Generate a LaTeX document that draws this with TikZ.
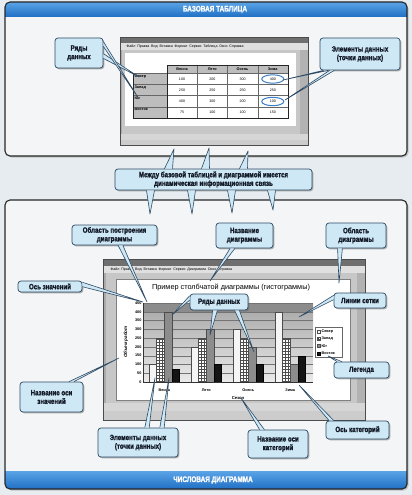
\documentclass[tikz,border=0pt]{standalone}
\usepackage{fontspec}
\setmainfont{Liberation Sans}
\newfontfamily\callfont{Liberation Sans Bold}[FakeStretch=0.8, FakeBold=1.6]
\usetikzlibrary{calc,shadows,patterns}

\definecolor{hdrblue}{HTML}{1F6FC4}
\definecolor{hdrlight}{HTML}{5AA4E6}
\definecolor{callfill}{HTML}{CFE8F6}
\definecolor{callline}{HTML}{2E4A63}
\definecolor{calltext}{HTML}{141B28}
\definecolor{panelbg}{HTML}{F3F5F6}
\definecolor{pagebg}{HTML}{E6ECEF}
\definecolor{winframe}{HTML}{ABABAB}
\definecolor{wintitle}{HTML}{6F6F6F}
\definecolor{cellgray}{HTML}{BDBDBD}
\definecolor{markblue}{HTML}{3C7FC4}

\tikzset{
  callbox/.style={draw=callline, line width=0.7pt, fill=callfill, rounded corners=3pt,
    align=center, inner sep=1.5pt, text=calltext,
    font=\callfont\fontsize{7.7}{8.6}\selectfont,
    drop shadow={shadow xshift=1.3pt, shadow yshift=-1.3pt, fill=black!60}},
  panel/.style={draw=black!85, line width=1.1pt, rounded corners=5pt},
  tiny/.style={font=\fontsize{3.6}{4}\selectfont, inner sep=0.4pt},
  tinyb/.style={font=\bfseries\fontsize{3.8}{4}\selectfont, inner sep=0.4pt},
  sevbar/.style={fill=black!4, draw=black!70, line width=0.3pt},
  zapbar/.style={fill=white, postaction={pattern=grid, pattern color=black!70}, draw=black!70, line width=0.3pt},
  yugbar/.style={fill=black!45, draw=black!70, line width=0.3pt},
  vosbar/.style={fill=black!92, draw=black, line width=0.3pt},
  markring/.style={draw=markblue, line width=1pt}
}

% Sprechblasen-Zipfel: Basis, Spitze, halbe Breite als Vektor
\newcommand{\calltail}[3]{%
  \fill[callfill] ($#1+#3$) -- #2 -- ($#1-#3$) -- cycle;
  \draw[callline, line width=0.6pt, line join=round] ($#1+#3$) -- #2 -- ($#1-#3$);}

\begin{document}
\begin{tikzpicture}[x=1pt, y=-1pt]

  \useasboundingbox (0,0) rectangle (412,495);
  \fill[pagebg] (0,0) rectangle (412,495);

  % Rahmen oben: Basistabelle
  \fill[panelbg, rounded corners=5pt, drop shadow={shadow xshift=1.5pt, shadow yshift=-1.5pt, fill=black!40}] (5,2) rectangle (407,156);
  \begin{scope}
    \clip[rounded corners=5pt] (5,2) rectangle (407,156);
    \fill[top color=hdrlight, bottom color=hdrblue] (5,2) rectangle (407,17);
  \end{scope}
  \draw[panel] (5,2) rectangle (407,156);
  \node[text=white, font=\callfont\fontsize{8}{8}\selectfont] (toptitle) at (215,9.5) {БАЗОВАЯ ТАБЛИЦА};

  % Rahmen unten: Diagramm
  \fill[panelbg, rounded corners=5pt, drop shadow={shadow xshift=1.5pt, shadow yshift=-1.5pt, fill=black!40}] (5,200) rectangle (407,489);
  \begin{scope}
    \clip[rounded corners=5pt] (5,200) rectangle (407,489);
    \fill[top color=hdrlight, bottom color=hdrblue] (5,471) rectangle (407,489);
  \end{scope}
  \draw[panel] (5,200) rectangle (407,489);
  \node[text=white, font=\callfont\fontsize{8}{8}\selectfont] (bottitle) at (213,480) {ЧИСЛОВАЯ ДИАГРАММА};

  % Fenster mit Tabelle
  \fill[winframe] (120,37) rectangle (308,145);
  \fill[wintitle] (120,37) rectangle (308,43);
  \fill[black!12] (120,43) rectangle (308,50);
  \node[tiny, anchor=west] (topmenu) at (126,46.5) {Файл\enspace Правка\enspace Вид\enspace Вставка\enspace Формат\enspace Сервис\enspace Таблица\enspace Окно\enspace Справка};
  \fill[black!22] (122,50) rectangle (300,134);
  \fill[white] (125,53) rectangle (296,126);
  \fill[black!30] (300,50) rectangle (308,134);
  \fill[black!16] (120,134) rectangle (308,140);
  \fill[black!20] (120,140) rectangle (308,145);
  \draw[black!70, line width=0.5pt] (120,37) rectangle (308,145);

  % Tabelle
  \foreach \s [count=\i from 0] in {Весна,Лето,Осень,Зима} {
      \fill[cellgray] ({167+30.25*\i},65) rectangle ({167+30.25*(\i+1)},73);
      \node[tinyb] (h-\i) at ({182+30.25*\i},69) {\s};
    }
  \foreach \r/\a/\b/\c/\d [count=\j from 0] in {Север/100/200/300/400, Запад/250/250/250/250, Юг/400/300/200/100, Восток/75/100/100/150} {
      \fill[cellgray] (133,{73+11.25*\j}) rectangle (167,{73+11.25*(\j+1)});
      \node[tinyb, anchor=north west] (r-\j) at (134,{74+11.25*\j}) {\r};
      \foreach \v [count=\i from 0] in {\a,\b,\c,\d}
        \node[tiny] (c-\j-\i) at ({182+30.25*\i},{79+11.25*\j}) {\v};
    }
  \foreach \i in {1,...,4}
    \draw[black!60, line width=0.4pt] ({167+30.25*\i},65) -- ({167+30.25*\i},118);
  \foreach \j in {0,...,3}
    \draw[black!60, line width=0.4pt] (133,{73+11.25*\j}) -- (288,{73+11.25*\j});
  \draw[black!60, line width=0.4pt] (167,65) -- (288,65);
  \draw[black!85, line width=0.9pt] (133,73) -- (133,118) -- (288,118) -- (288,65) -- (167,65) -- (167,118);

  % Markierte Datenpunkte
  \draw[markring] (c-0-3) ellipse (11pt and 4.2pt);
  \draw[markring] (c-2-3) ellipse (11pt and 4.2pt);

  % Fenster mit Diagramm
  \fill[winframe] (103,259) rectangle (365,420);
  \fill[wintitle] (103,259) rectangle (365,266);
  \fill[black!12] (103,266) rectangle (365,273);
  \node[tiny, anchor=west] (botmenu) at (110,269.5) {Файл\enspace Правка\enspace Вид\enspace Вставка\enspace Формат\enspace Сервис\enspace Диаграмма\enspace Окно\enspace Справка};
  \fill[black!22] (106,273) rectangle (357,403);
  \fill[white] (116,279) rectangle (350,400);
  \draw[black!50, line width=0.4pt] (116,279) rectangle (350,400);
  \fill[black!30] (357,273) rectangle (365,403);
  \fill[black!16] (103,403) rectangle (365,411);
  \fill[black!20] (103,411) rectangle (365,420);
  \draw[black!70, line width=0.5pt] (103,259) rectangle (365,420);

  % Diagramm
  \node[font=\fontsize{7.3}{8}\selectfont] (ctitle) at (231,288) {Пример столбчатой диаграммы (гистограммы)};
  \fill[top color=black!35, bottom color=black!8] (143,303) rectangle (313,382);
  \fill[black!45] (143,303) rectangle (313,311.8);
  \foreach \v in {50,100,...,450}
    \draw[black!55, line width=0.3pt] (143,{382-\v*0.1756}) -- (313,{382-\v*0.1756});
  \foreach \v in {0,50,...,450}
    \node[tinyb, anchor=east] at (142,{382-\v*0.1756}) {\v};
  \foreach \g/\va/\vb/\vc/\vd [count=\gi from 0] in {Весна/100/250/400/75, Лето/200/250/300/100, Осень/300/250/200/100, Зима/400/250/100/150} {
      \pgfmathsetmacro{\xg}{149+42*\gi}
      \draw[sevbar] (\xg,382) rectangle ({\xg+7.6},{382-\va*0.1756});
      \draw[zapbar] ({\xg+7.6},382) rectangle ({\xg+15.2},{382-\vb*0.1756});
      \draw[yugbar] ({\xg+15.2},382) rectangle ({\xg+22.8},{382-\vc*0.1756});
      \draw[vosbar] ({\xg+22.8},382) rectangle ({\xg+30.4},{382-\vd*0.1756});
      \node[tinyb] (cat-\gi) at ({\xg+15.2},390) {\g};
    }
  \draw[black!80, line width=0.5pt] (143,303) -- (143,382) -- (313,382);
  \node[font=\bfseries\fontsize{4.2}{5}\selectfont] (xtitle) at (238,398) {Сезон};
  \node[font=\bfseries\itshape\fontsize{4.6}{5}\selectfont, rotate=90] (ytitle) at (126,342) {Объем работ};

  % Legende
  \draw[fill=white, draw=black!60, line width=0.4pt] (315,327) rectangle (342,357);
  \foreach \st/\nm [count=\k from 0] in {sevbar/Север, zapbar/Запад, yugbar/Юг, vosbar/Восток} {
      \draw[\st] (317.5,{330+7.3*\k}) rectangle (320.5,{333+7.3*\k});
      \node[tinyb, anchor=west] (leg-\k) at (321,{331.5+7.3*\k}) {\nm};
    }

  % Zielpunkte der Zipfel
  \coordinate (pSever) at (139,77);
  \coordinate (pYug) at (139,99);
  \coordinate (pMark1) at (283,80);
  \coordinate (pMark2) at (285,100);
  \coordinate (pUp1) at (174,149);
  \coordinate (pUp2) at (209,148);
  \coordinate (pUp3) at (248,151);
  \coordinate (pDn1) at (150,214);
  \coordinate (pDn2) at (192,214);
  \coordinate (pDn3) at (232,213);
  \coordinate (pDn4) at (273,210);
  \coordinate (pPlot) at (147,302);
  \coordinate (pTitle) at (210,281);
  \coordinate (pChart) at (339,283);
  \coordinate (pAxisV) at (143,302);
  \coordinate (pRow1) at (172,315);
  \coordinate (pRow2) at (210,335);
  \coordinate (pRow3) at (254,352);
  \coordinate (pGrid) at (299,317);
  \coordinate (pLeg) at (328,356);
  \coordinate (pAxisC) at (299,385);
  \coordinate (pTitleC) at (241,398);
  \coordinate (pBar1) at (155,378);
  \coordinate (pBar2) at (169,378);
  \coordinate (pTitleV) at (119,358);

  % Beschriftungen oben
  \node[callbox, minimum width=48pt, minimum height=30pt] (rowsT) at (79,53) {Ряды\\данных};
  \node[callbox, minimum width=80pt, minimum height=32pt] (elemT) at (360,54) {Элементы данных\\(точки данных)};
  \node[callbox, minimum width=197pt, minimum height=21pt] (link) at (213.5,179.5) {Между базовой таблицей и диаграммой имеется\\динамическая информационная связь};

  % Beschriftungen unten
  \node[callbox, minimum width=85pt, minimum height=20pt] (plotA) at (114.5,235) {Область построения\\диаграммы};
  \node[callbox, minimum width=57pt, minimum height=25pt] (chartT) at (244.5,235.5) {Название\\диаграммы};
  \node[callbox, minimum width=60pt, minimum height=25pt] (chartA) at (356,235.5) {Область\\диаграммы};
  \node[callbox, minimum width=64pt, minimum height=11pt] (axisV) at (50,286.5) {Ось значений};
  \node[callbox, minimum width=58pt, minimum height=16pt] (rowsC) at (219,302) {Ряды данных};
  \node[callbox, minimum width=52pt, minimum height=15pt] (gridL) at (360,300.5) {Линии сетки};
  \node[callbox, minimum width=55pt, minimum height=16pt] (legend) at (361.5,370) {Легенда};
  \node[callbox, minimum width=63pt, minimum height=18pt] (axisC) at (357.5,430) {Ось категорий};
  \node[callbox, minimum width=60pt, minimum height=28pt] (titleC) at (278,444) {Название оси\\категорий};
  \node[callbox, minimum width=80pt, minimum height=29pt] (elemC) at (138,442.5) {Элементы данных\\(точки данных)};
  \node[callbox, minimum width=63pt, minimum height=30pt] (titleV) at (51.5,397) {Название оси\\значений};

  % Zipfel
  \calltail{([yshift=-3pt]rowsT.east)}{(pSever)}{(0,2.4)}
  \calltail{([yshift=9pt]rowsT.east)}{(pYug)}{(0,2.4)}
  \calltail{([xshift=-34pt]elemT.south)}{(pMark1)}{(2.4,0)}
  \calltail{([xshift=-28pt]elemT.south)}{(pMark2)}{(2.4,0)}
  \calltail{([xshift=-45pt]link.north)}{(pUp1)}{(4,0)}
  \calltail{([xshift=-8pt]link.north)}{(pUp2)}{(4,0)}
  \calltail{([xshift=30pt]link.north)}{(pUp3)}{(4,0)}
  \calltail{([xshift=-63pt]link.south)}{(pDn1)}{(4,0)}
  \calltail{([xshift=-22pt]link.south)}{(pDn2)}{(4,0)}
  \calltail{([xshift=18pt]link.south)}{(pDn3)}{(4,0)}
  \calltail{([xshift=58pt]link.south)}{(pDn4)}{(4,0)}
  \calltail{([xshift=6pt]plotA.south)}{(pPlot)}{(2.4,0)}
  \calltail{([xshift=-12pt]chartT.south)}{(pTitle)}{(2.4,0)}
  \calltail{([xshift=-16pt]chartA.south)}{(pChart)}{(2.4,0)}
  \calltail{([yshift=2pt]axisV.east)}{(pAxisV)}{(0,2.2)}
  \calltail{([yshift=4pt]rowsC.west)}{(pRow1)}{(0,2.2)}
  \calltail{([xshift=-4pt]rowsC.south)}{(pRow2)}{(2.4,0)}
  \calltail{([xshift=18pt]rowsC.south)}{(pRow3)}{(2.4,0)}
  \calltail{([yshift=3pt]gridL.west)}{(pGrid)}{(0,2.2)}
  \calltail{([xshift=-22pt]legend.north)}{(pLeg)}{(2.4,0)}
  \calltail{([xshift=-26pt]axisC.north)}{(pAxisC)}{(2.4,0)}
  \calltail{([xshift=-16pt]titleC.north)}{(pTitleC)}{(2.4,0)}
  \calltail{([xshift=9pt]elemC.north)}{(pBar1)}{(2.2,0)}
  \calltail{([xshift=24pt]elemC.north)}{(pBar2)}{(2.2,0)}
  \calltail{([xshift=20pt]titleV.north)}{(pTitleV)}{(2.4,0)}

\end{tikzpicture}
\end{document}
